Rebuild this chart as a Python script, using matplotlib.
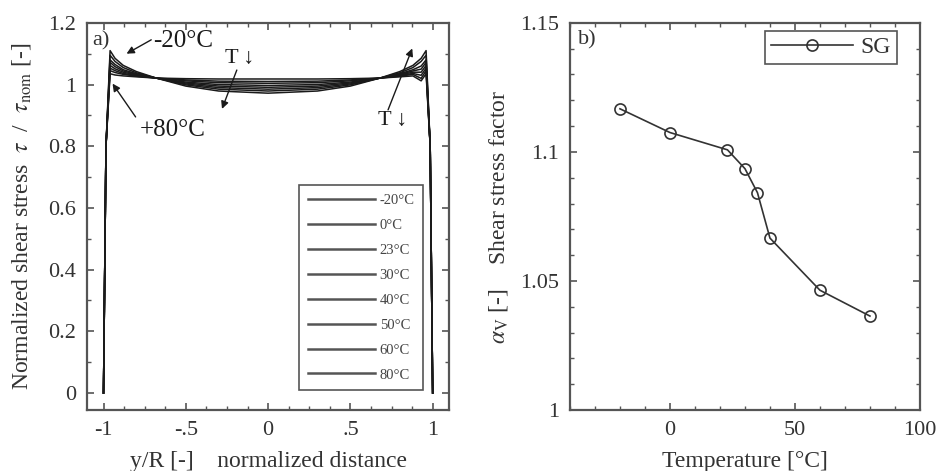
import numpy as np
import matplotlib
matplotlib.use("Agg")
import matplotlib.pyplot as plt
from matplotlib.ticker import MultipleLocator, FormatStrFormatter

plt.rcParams["font.family"] = ["Liberation Serif", "DejaVu Serif"]
plt.rcParams["mathtext.fontset"] = "stix"

# panel a) normalized shear stress over y/R for each temperature
y_pos = [-1.0, -0.985, -0.96, -0.93, -0.88, -0.8, -0.68, -0.5, -0.3, 0.0,
         0.3, 0.5, 0.68, 0.8, 0.88, 0.93, 0.96, 0.985, 1.0]
temp_labels = ["-20°C", "0°C", "23°C", "30°C", "40°C", "50°C", "60°C", "80°C"]
tau_m20 = [0, 0.8, 1.110, 1.085, 1.062, 1.042, 1.021, 0.995, 0.979, 0.972,
           0.979, 0.995, 1.021, 1.042, 1.062, 1.085, 1.110, 0.8, 0]
tau_0 = [0, 0.8, 1.095, 1.075, 1.055, 1.038, 1.021, 0.999, 0.985, 0.979,
         0.985, 0.999, 1.021, 1.038, 1.055, 1.075, 1.095, 0.8, 0]
tau_23 = [0, 0.8, 1.080, 1.065, 1.048, 1.035, 1.021, 1.002, 0.990, 0.985,
          0.990, 1.002, 1.021, 1.035, 1.048, 1.060, 1.080, 0.8, 0]
tau_30 = [0, 0.8, 1.072, 1.058, 1.044, 1.033, 1.021, 1.005, 0.995, 0.991,
          0.995, 1.005, 1.021, 1.033, 1.044, 1.050, 1.072, 0.8, 0]
tau_40 = [0, 0.8, 1.062, 1.051, 1.040, 1.031, 1.021, 1.008, 1.000, 0.997,
          1.000, 1.008, 1.021, 1.031, 1.040, 1.040, 1.062, 0.8, 0]
tau_50 = [0, 0.8, 1.053, 1.045, 1.036, 1.029, 1.021, 1.012, 1.006, 1.004,
          1.006, 1.012, 1.021, 1.029, 1.036, 1.030, 1.053, 0.8, 0]
tau_60 = [0, 0.8, 1.045, 1.039, 1.033, 1.027, 1.021, 1.015, 1.011, 1.010,
          1.011, 1.015, 1.021, 1.027, 1.033, 1.020, 1.045, 0.8, 0]
tau_80 = [0, 0.8, 1.035, 1.031, 1.028, 1.025, 1.021, 1.019, 1.018, 1.018,
          1.018, 1.019, 1.021, 1.025, 1.028, 1.012, 1.035, 0.8, 0]
tau_curves = [tau_m20, tau_0, tau_23, tau_30, tau_40, tau_50, tau_60, tau_80]

# panel b) shear stress factor over temperature
temps = [-20, 0, 23, 30, 35, 40, 60, 80]
alpha_v = [1.1167, 1.1075, 1.1008, 1.0935, 1.0842, 1.0666, 1.0464, 1.0364]

txt = "#333333"
spine_c = "#555555"

fig = plt.figure(figsize=(9.39, 4.71), dpi=100)
ax1 = fig.add_axes([0.0927, 0.1295, 0.3856, 0.822])
ax2 = fig.add_axes([0.607, 0.1295, 0.3727, 0.822])

for ys, lab in zip(tau_curves, temp_labels):
    ax1.plot(y_pos, ys, color="#1a1a1a", lw=1.1, label=lab)

ax1.set_xlim(-1.1, 1.1)
ax1.set_ylim(-0.055, 1.2)
ax1.set_xticks([-1, -0.5, 0, 0.5, 1])
ax1.set_xticklabels(["-1", "-.5", "0", ".5", "1"])
ax1.xaxis.set_minor_locator(MultipleLocator(0.125))
ax1.set_yticks([0, 0.2, 0.4, 0.6, 0.8, 1.0, 1.2])
ax1.yaxis.set_major_formatter(FormatStrFormatter("%g"))
ax1.yaxis.set_minor_locator(MultipleLocator(0.1))
ax1.set_xlabel("y/R [-]    normalized distance", fontsize=17, color=txt, labelpad=8)
ax1.set_ylabel(r"Normalized shear stress  $\tau$  /  $\tau_{\rm nom}$ [-]",
               fontsize=17, color=txt, labelpad=11)

leg1 = ax1.legend(loc="lower right", bbox_to_anchor=(0.949, 0.032), fontsize=10.5,
                  handlelength=4.6, labelspacing=0.8, fancybox=False,
                  framealpha=1, borderpad=0.6, handletextpad=0.3)
leg1.get_frame().set_edgecolor(spine_c)
leg1.get_frame().set_linewidth(1.2)
for h in leg1.get_lines():
    h.set_color("#555555")
    h.set_linewidth(1.8)
for t in leg1.get_texts():
    t.set_color("#444444")

arrow = dict(arrowstyle="-|>", color="#1a1a1a", lw=1.0, mutation_scale=11,
             shrinkA=0, shrinkB=0)
ax1.annotate("", xy=(-0.86, 1.10), xytext=(-0.71, 1.145), arrowprops=arrow)
ax1.text(-0.70, 1.14, "-20°C", fontsize=18, color="#1a1a1a", va="center", ha="left")
ax1.annotate("", xy=(-0.945, 1.003), xytext=(-0.805, 0.895), arrowprops=arrow)
ax1.text(-0.578, 0.852, "+80°C", fontsize=18, color="#1a1a1a", va="center", ha="center")
ax1.annotate("", xy=(-0.28, 0.921), xytext=(-0.19, 1.047), arrowprops=arrow)
ax1.text(-0.174, 1.084, "T\u2009\u2193", fontsize=16, color="#1a1a1a", va="center", ha="center")
ax1.annotate("", xy=(0.876, 1.117), xytext=(0.729, 0.918), arrowprops=arrow)
ax1.text(0.755, 0.885, "T\u2009\u2193", fontsize=16, color="#1a1a1a", va="center", ha="center")
ax1.text(0.015, 0.978, "a)", transform=ax1.transAxes, fontsize=16, color=txt,
         va="top", ha="left")

ax2.plot(temps, alpha_v, color="#333333", lw=1.2, marker="o", ms=8,
         mfc="none", mec="#333333", mew=1.2, label="SG")
ax2.set_xlim(-40, 100)
ax2.set_ylim(1.0, 1.15)
ax2.set_xticks([0, 50, 100])
ax2.xaxis.set_minor_locator(MultipleLocator(10))
ax2.set_yticks([1.0, 1.05, 1.1, 1.15])
ax2.yaxis.set_major_formatter(FormatStrFormatter("%g"))
ax2.yaxis.set_minor_locator(MultipleLocator(0.01))
ax2.set_xlabel("Temperature [°C]", fontsize=17, color=txt, labelpad=8)
ax2.set_ylabel(r"$\alpha_{\rm V}$ [-]    Shear stress factor", fontsize=17,
               color=txt, labelpad=7)
leg2 = ax2.legend(loc="upper right", bbox_to_anchor=(0.934, 0.98), fontsize=17,
                  handlelength=3.5, fancybox=False, framealpha=1,
                  borderpad=0.25, handletextpad=0.3, borderaxespad=0)
leg2.get_frame().set_edgecolor(spine_c)
leg2.get_frame().set_linewidth(1.2)
for t in leg2.get_texts():
    t.set_color(txt)
ax2.text(0.022, 0.98, "b)", transform=ax2.transAxes, fontsize=16, color=txt,
         va="top", ha="left")

for ax in (ax1, ax2):
    for s in ax.spines.values():
        s.set_color(spine_c)
        s.set_linewidth(1.6)
    ax.tick_params(which="both", direction="in", top=True, right=True,
                   colors=spine_c, labelcolor=txt, labelsize=16)
    ax.tick_params(which="major", length=5, width=1.2, pad=8)
    ax.tick_params(which="minor", length=3, width=1.0)

fig.savefig("out.png", dpi=100)
